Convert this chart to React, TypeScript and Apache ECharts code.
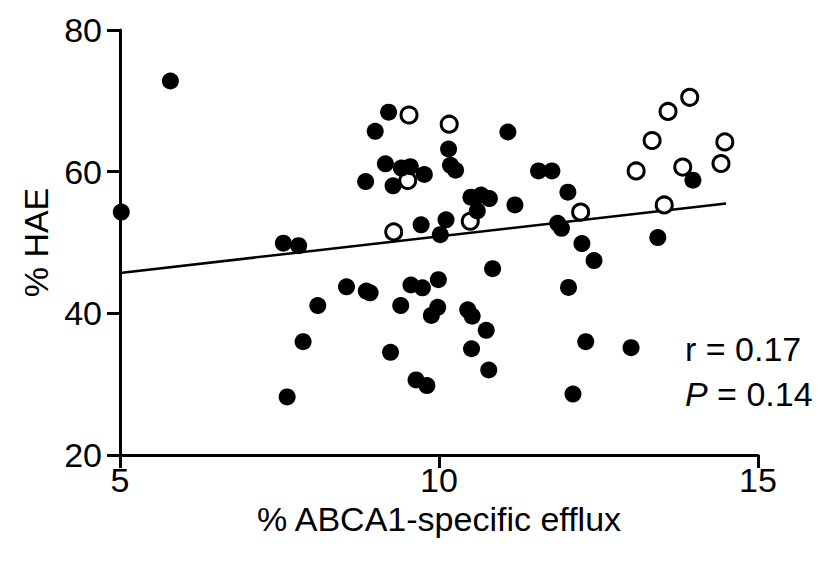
import React, { useEffect, useRef } from "react";
import * as echarts from "echarts";

const filledX = [5.02, 5.79, 7.56, 7.80, 8.10, 7.87, 7.62, 8.55, 8.86, 8.92, 9.24, 9.00, 9.21, 9.16, 9.41, 9.55, 9.77, 8.85, 9.28, 10.15, 10.18, 10.26, 11.08, 11.56, 11.77, 12.02, 11.19, 10.50, 10.66, 10.79, 10.60, 10.11, 9.72, 10.02, 11.86, 11.92, 12.24, 12.43, 13.43, 13.98, 10.84, 9.56, 9.74, 9.99, 9.40, 9.88, 9.98, 10.45, 10.52, 10.74, 10.51, 10.78, 9.64, 9.81, 12.03, 12.30, 13.01, 12.10];
const filledY = [54.3, 72.8, 49.9, 49.55, 41.1, 36.0, 28.2, 43.75, 43.15, 42.9, 34.5, 65.7, 68.4, 61.1, 60.5, 60.7, 59.6, 58.6, 58.0, 63.2, 60.9, 60.2, 65.6, 60.1, 60.1, 57.1, 55.3, 56.4, 56.7, 56.2, 54.45, 53.2, 52.5, 51.1, 52.7, 52.0, 49.85, 47.45, 50.7, 58.8, 46.3, 44.0, 43.6, 44.75, 41.1, 39.7, 40.85, 40.5, 39.6, 37.6, 35.0, 32.0, 30.6, 29.8, 43.65, 36.0, 35.15, 28.6];

const openX = [9.53, 10.16, 9.51, 9.29, 10.49, 12.22, 13.09, 13.34, 13.59, 13.93, 13.82, 14.48, 14.42, 13.53];
const openY = [68.0, 66.7, 58.75, 51.5, 53.0, 54.3, 60.1, 64.4, 68.5, 70.5, 60.65, 64.2, 61.15, 55.3];

const fitX = [5, 14.5];
const fitY = [45.7, 55.5];

const xTitle = "% ABCA1-specific efflux";
const yTitle = "% HAE";
const rText = "r = 0.17";
const pValue = "0.14";

const FONT = "'Liberation Sans', Arial, sans-serif";

export default function App() {
  const ref = useRef<HTMLDivElement>(null);
  useEffect(() => {
    if (!ref.current) return;
    const chart = echarts.init(ref.current, null, { renderer: "svg" });
    const axisCommon = {
      axisLine: { show: true, lineStyle: { color: "#000", width: 3 } },
      axisTick: { show: true, length: 13, lineStyle: { color: "#000", width: 3 } },
      splitLine: { show: false },
      nameLocation: "middle" as const,
      nameTextStyle: { color: "#000", fontSize: 34, fontFamily: FONT },
    };
    chart.setOption({
      animation: false,
      backgroundColor: "#fff",
      grid: { left: 120, top: 30, width: 638, height: 425 },
      xAxis: {
        type: "value",
        min: 5,
        max: 15,
        interval: 5,
        name: xTitle,
        nameGap: 45,
        ...axisCommon,
        axisLabel: { color: "#000", fontSize: 34, fontFamily: FONT, margin: 8 },
      },
      yAxis: {
        type: "value",
        min: 20,
        max: 80,
        interval: 20,
        name: yTitle,
        nameGap: 66,
        ...axisCommon,
        axisLabel: { color: "#000", fontSize: 34, fontFamily: FONT, margin: 18 },
      },
      series: [
        {
          type: "line",
          data: fitX.map((x, i) => [x, fitY[i]]),
          showSymbol: false,
          symbol: "none",
          lineStyle: { color: "#000", width: 2.5 },
          z: 1,
        },
        {
          type: "scatter",
          data: openX.map((x, i) => [x, openY[i]]),
          symbol: "circle",
          symbolSize: 16,
          itemStyle: { color: "#fff", borderColor: "#000", borderWidth: 3, opacity: 1 },
          z: 2,
        },
        {
          type: "scatter",
          data: filledX.map((x, i) => [x, filledY[i]]),
          symbol: "circle",
          symbolSize: 17,
          itemStyle: { color: "#000", opacity: 1 },
          z: 3,
        },
      ],
      graphic: [
        {
          type: "text",
          left: 685,
          top: 332,
          style: { text: rText, fill: "#000", font: `34px ${FONT}` },
        },
        {
          type: "text",
          left: 685,
          top: 377,
          style: {
            text: `{i|P} = ${pValue}`,
            fill: "#000",
            font: `34px ${FONT}`,
            rich: { i: { fontStyle: "italic", fontSize: 34, fontFamily: FONT, fill: "#000" } },
          },
        },
      ],
    });
    return () => chart.dispose();
  }, []);
  return (
    <div
      ref={ref}
      style={{ position: "fixed", left: 0, top: 0, width: 820, height: 561, background: "#fff" }}
    />
  );
}
